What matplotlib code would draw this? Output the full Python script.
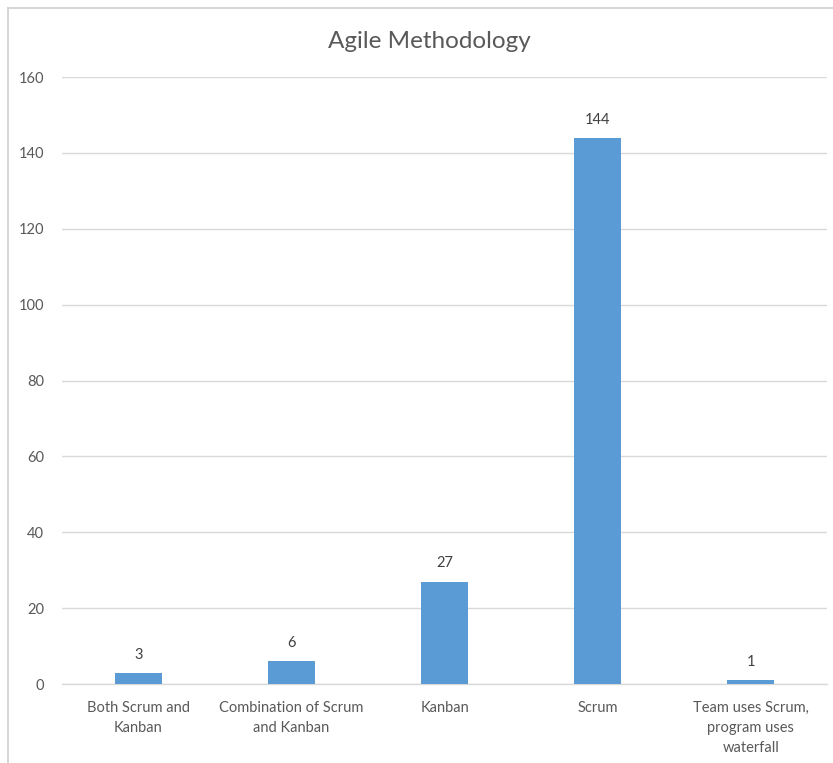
import matplotlib.pyplot as plt
from matplotlib.lines import Line2D
import numpy as np

categories = [
    "Both Scrum and\nKanban",
    "Combination of Scrum\nand Kanban",
    "Kanban",
    "Scrum",
    "Team uses Scrum,\nprogram uses\nwaterfall",
]
counts = [3, 6, 27, 144, 1]
y_ticks = [0, 20, 40, 60, 80, 100, 120, 140, 160]

BAR_COLOR = "#5B9BD5"
TEXT_COLOR = "#595959"
GRID_COLOR = "#D9D9D9"

plt.rcParams["font.family"] = ["Lato", "DejaVu Sans"]

fig = plt.figure(figsize=(8.33, 7.63), dpi=100)
ax = fig.add_axes([0.0744, 0.1035, 0.9186, 0.7955])

x = np.arange(len(categories))
bars = ax.bar(x, counts, width=0.31, color=BAR_COLOR, zorder=3)

for rect, val in zip(bars, counts):
    ax.annotate(str(val), (rect.get_x() + rect.get_width() / 2, rect.get_height()),
                xytext=(0, 8), textcoords="offset points",
                ha="center", va="bottom", fontsize=10.5, color="#404040")

ax.set_xlim(-0.5, len(categories) - 0.5)
ax.set_ylim(0, 160)
ax.set_yticks(y_ticks)
ax.set_xticks(x)
ax.set_xticklabels(categories, fontsize=10.5, color=TEXT_COLOR, linespacing=1.55)
ax.tick_params(axis="y", labelsize=10.5, labelcolor=TEXT_COLOR, length=0, pad=13)
ax.tick_params(axis="x", length=0, pad=12)

ax.yaxis.grid(True, color=GRID_COLOR, linewidth=1.0, zorder=0)
ax.set_axisbelow(True)
for side in ["top", "right", "left"]:
    ax.spines[side].set_visible(False)
ax.spines["bottom"].set_color(GRID_COLOR)
ax.spines["bottom"].set_linewidth(1.0)

fig.text(0.515, 0.945, "Agile Methodology", ha="center", va="center",
         fontsize=17.5, color=TEXT_COLOR)

# chart area border (top and left edges)
border = dict(color="#D0D0D0", linewidth=1.2, transform=fig.transFigure)
fig.add_artist(Line2D([8 / 833, 1.0], [1 - 8 / 763, 1 - 8 / 763], **border))
fig.add_artist(Line2D([8 / 833, 8 / 833], [0.0, 1 - 8 / 763], **border))

fig.savefig("out.png", dpi=100)
